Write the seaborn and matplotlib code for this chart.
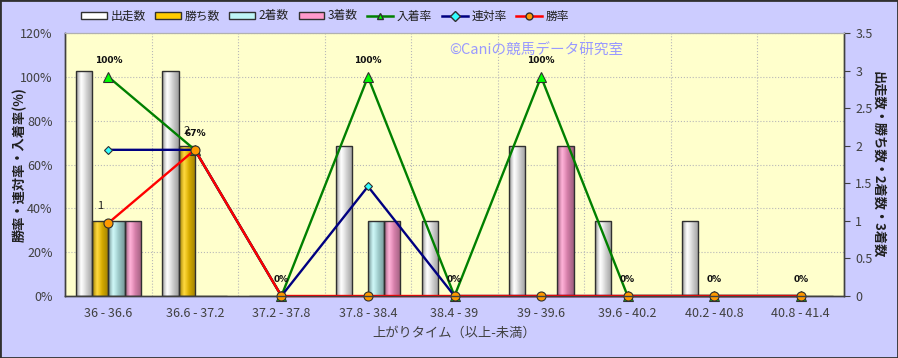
import matplotlib
matplotlib.use('Agg')
import matplotlib.pyplot as plt
from matplotlib.patches import Patch, Rectangle
from matplotlib.lines import Line2D
import matplotlib.colors as mcolors
import numpy as np
import pandas as pd
import seaborn as sns

# --- data ---
categories = ['36 - 36.6', '36.6 - 37.2', '37.2 - 37.8', '37.8 - 38.4', '38.4 - 39',
              '39 - 39.6', '39.6 - 40.2', '40.2 - 40.8', '40.8 - 41.4']
runs = [3, 3, 0, 2, 1, 2, 1, 1, 0]
wins = [1, 2, 0, 0, 0, 0, 0, 0, 0]
seconds = [1, 0, 0, 1, 0, 0, 0, 0, 0]
thirds = [1, 0, 0, 1, 0, 2, 0, 0, 0]
place_rate = [100, 66.7, 0, 100, 0, 100, 0, 0, 0]
quinella_rate = [66.7, 66.7, 0, 50, 0, 0, 0, 0, 0]
win_rate = [33.3, 66.7, 0, 0, 0, 0, 0, 0, 0]

bar_names = ['出走数', '勝ち数', '2着数', '3着数']
bar_colors = ['#ffffff', '#ffcc00', '#bff5f5', '#ff99cc']
rate_names = ['入着率', '連対率', '勝率']
line_colors = ['#008000', '#000080', '#ff0000']
marker_faces = ['#00ff00', '#33ffff', '#ff9900']
marker_shapes = ['^', 'D', 'o']

plt.rcParams['font.family'] = ['Noto Sans CJK JP', 'DejaVu Sans']
plt.rcParams['axes.unicode_minus'] = False

BG = '#ccccff'
TXT = '#404040'

bar_df = pd.DataFrame({
    '区間': categories * 4,
    '種別': [n for n in bar_names for _ in categories],
    '数': runs + wins + seconds + thirds,
})
line_df = pd.DataFrame({'区間': categories, '入着率': place_rate,
                        '連対率': quinella_rate, '勝率': win_rate})

fig = plt.figure(figsize=(8.98, 3.58), dpi=100, facecolor=BG)
ax = fig.add_axes([0.0724, 0.1732, 0.8675, 0.7346])
ax.set_facecolor('#ffffcc')

sns.barplot(data=bar_df, x='区間', y='数', hue='種別', hue_order=bar_names,
            palette=bar_colors, width=0.75, saturation=1, edgecolor='#303030',
            linewidth=1, ax=ax, legend=False, order=categories)


def cylinder(rgb, n=48):
    t = np.linspace(0, 1, n)
    f = np.interp(t, [0, 0.3, 1], [0.55, 1.0, 0.62])
    hl = np.interp(t, [0, 0.3, 0.6, 1], [0, 0.25, 0, 0])
    c = np.array(rgb)[None, :] * f[:, None]
    c = c + (1 - c) * hl[:, None]
    return np.clip(c, 0, 1)[None, :, :]


# shaded (cylinder-like) fill for every bar
for p in list(ax.patches):
    h = p.get_height()
    if h <= 0:
        continue
    x0 = p.get_x()
    w = p.get_width()
    rgb = mcolors.to_rgb(p.get_facecolor())
    im = ax.imshow(cylinder(rgb), extent=(x0, x0 + w, 0, h), aspect='auto',
                   origin='lower', zorder=2, interpolation='bilinear')
    im.set_clip_path(p)
    p.set_facecolor('none')
    p.set_zorder(3)

# labels for 勝ち数 bars
ax.bar_label(ax.containers[1], labels=[str(v) if v > 0 else '' for v in wins],
             padding=7, fontsize=8, color='#202020')

# grid behind bars
pct_ticks = np.arange(0, 121, 20)
for v in pct_ticks[1:]:
    ax.axhline(v / 120 * 3.5, color='#b8b8b8', lw=0.8, ls=':', zorder=1)
for k in range(len(categories) - 1):
    ax.axvline(k + 0.5, color='#b8b8b8', lw=0.8, ls=':', zorder=1)

# rate lines on the twin axis (left side)
ax2 = ax.twinx()
for name, lc, mk, fc in zip(rate_names, line_colors, marker_shapes, marker_faces):
    sns.pointplot(data=line_df, x='区間', y=name, order=categories, color=lc,
                  markers=mk, errorbar=None, ax=ax2, legend=False)
    ln = ax2.lines[-1]
    ln.set_linewidth(1.7)
    ln.set_markerfacecolor(fc)
    ln.set_markeredgecolor('#303030')
    ln.set_markeredgewidth(0.8)
    ln.set_markersize(6.5 if mk != 'D' else 4.5)
    ln.set_clip_on(False)
    if name == '入着率':
        for (xx, yy), v in zip(ln.get_xydata(), place_rate):
            ax2.annotate(f'{v:.0f}%', (xx, yy), xytext=(0, 12),
                         textcoords='offset points', ha='center', va='center',
                         fontsize=6.5, fontweight='bold', color='#101010',
                         family='DejaVu Sans')

# count axis on the right (set after twinx, which resets it)
ax.set_xlim(-0.5, len(categories) - 0.5)
ax.set_ylim(0, 3.5)
ax.yaxis.tick_right()
ax.yaxis.set_label_position('right')
ax.set_yticks(np.arange(0, 3.51, 0.5))
ax.set_yticklabels(['0', '0.5', '1', '1.5', '2', '2.5', '3', '3.5'])
ax.set_ylabel('出走数・勝ち数・2着数・3着数', rotation=270, labelpad=9,
              fontsize=9.5, fontweight='bold', color='#202020')
ax.set_xlabel('上がりタイム（以上-未満）', fontsize=9.5, color=TXT, labelpad=5)
ax.tick_params(axis='x', length=0, labelsize=9, colors=TXT, pad=8)
ax.tick_params(axis='y', length=4, labelsize=9, colors=TXT, pad=4, color='#404040')

# rate axis on the left
ax2.set_xlim(-0.5, len(categories) - 0.5)
ax2.set_ylim(0, 120)
ax2.yaxis.tick_left()
ax2.yaxis.set_label_position('left')
ax2.set_yticks(pct_ticks)
ax2.set_yticklabels([f'{v}%' for v in pct_ticks])
ax2.tick_params(axis='y', length=0, labelsize=9, colors=TXT, pad=9)
ax2.set_ylabel('勝率・連対率・入着率(%)', fontsize=9.5, fontweight='bold',
               color='#202020')
ax2.yaxis.set_label_coords(-0.049, 0.5)
ax2.set_xlabel('')

for a in (ax, ax2):
    a.spines['top'].set_color('#b0b0b0')
    for s in ('left', 'right', 'bottom'):
        a.spines[s].set_color('#404040')
        a.spines[s].set_linewidth(1)

fig.text(449 / 898, 1 - 51 / 358, '©Caniの競馬データ研究室', fontsize=10.5,
         color='#9999ff', ha='left', va='center')

handles = [Patch(facecolor=c, edgecolor='#303030', linewidth=1) for c in bar_colors]
handles += [Line2D([], [], color=lc, marker=mk, markerfacecolor=fc,
                   markeredgecolor='#303030', markersize=5, linewidth=1.8)
            for lc, mk, fc in zip(line_colors, marker_shapes, marker_faces)]
fig.legend(handles, bar_names + rate_names, loc='center left',
           bbox_to_anchor=(81 / 898, 1 - 16 / 358), ncol=7, frameon=False,
           fontsize=8.5, handlelength=2.2, handleheight=0.5, handletextpad=0.3,
           columnspacing=0.8, borderaxespad=0, borderpad=0, labelcolor='#202020')

fig.patches.append(Rectangle((0, 0), 1, 1, transform=fig.transFigure, fill=False,
                             edgecolor='#303030', linewidth=2))

fig.savefig('out.png', dpi=100, facecolor=BG)
